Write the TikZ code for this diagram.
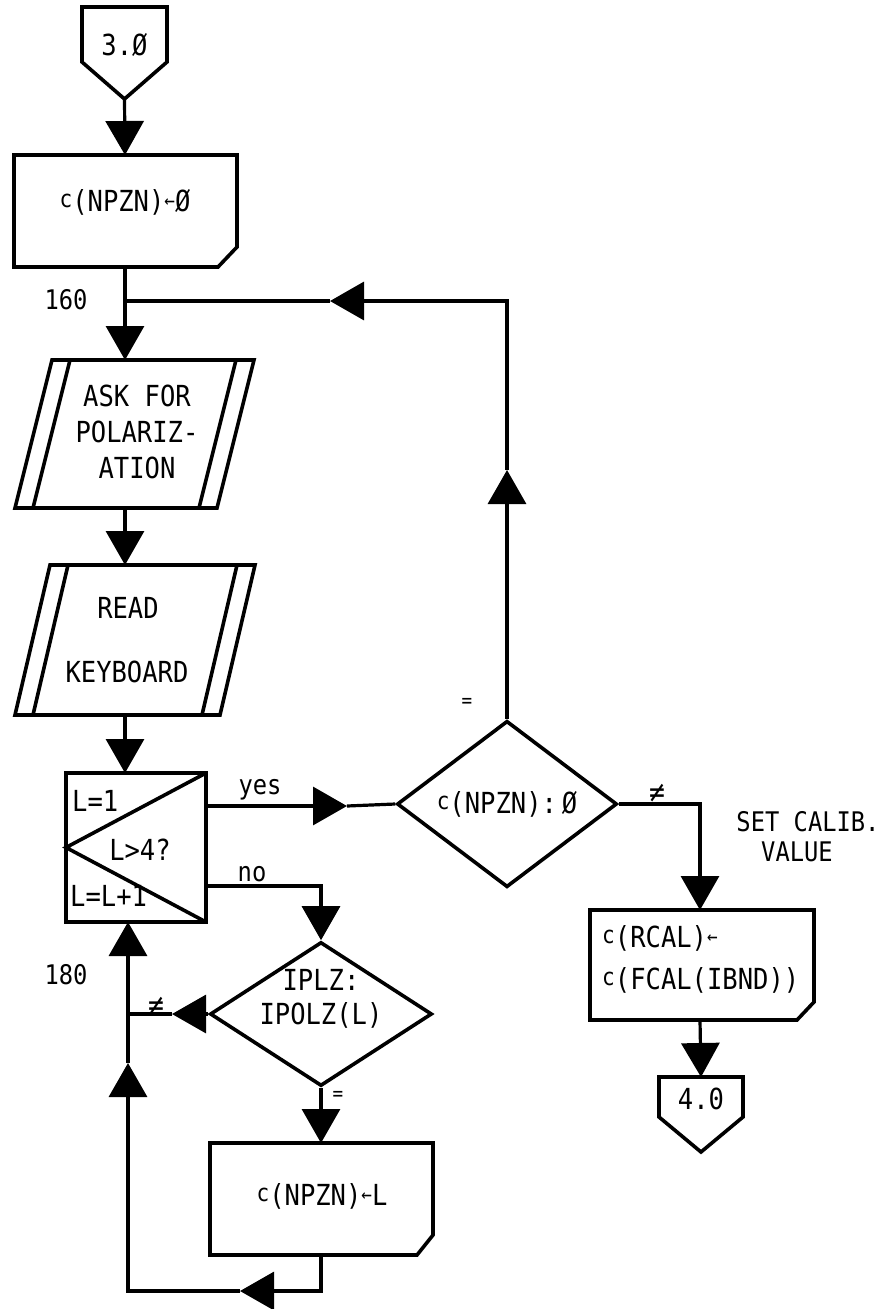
\documentclass[tikz,border=0pt]{standalone}
\usepackage{fontspec}
\setmainfont{DejaVu Sans Mono}[FakeStretch=0.88]
\usetikzlibrary{arrows.meta,shapes.geometric,calc}
\newcommand\smc{\raisebox{4pt}{\fontsize{24}{24}\selectfont c}}
\newcommand\lar{{\fontsize{20}{20}\selectfont\raisebox{4pt}{←}}}
\begin{document}
\begin{tikzpicture}[x=1pt,y=1pt,
  shp/.style={line width=3.6pt, line join=miter},
  conn/.style={line width=3.2pt},
  tip/.style={-{Triangle[width=38pt,length=34pt]}},
  txt/.style={font=\fontsize{29}{36}\selectfont, inner sep=0pt, align=center},
  lbl/.style={font=\fontsize{27}{30}\selectfont, inner sep=0pt},
  sml/.style={font=\fontsize{20}{20}\selectfont, inner sep=0pt},
  neq/.style={font=\fontsize{30}{30}\selectfont, inner sep=0pt}]
\useasboundingbox[fill=white] (0,0) rectangle (891,-1309);

% off-page connector 3.0
\draw[shp] (82,-62) -- (82,-7) -- (167,-7) -- (167,-62) -- (124.5,-99) -- cycle;
\node[txt] (c3) at (124.5,-45) {3.Ø};
\coordinate (c3tip) at (124.5,-99);

% box 1
\draw[shp] (14,-155) -- (237,-155) -- (237,-247) -- (218,-267) -- (14,-267) -- cycle;
\node[txt] (b1) at (125,-202) {\smc(NPZN)\lar Ø};
\coordinate (b1n) at (125,-155);
\coordinate (b1s) at (125,-267);
\coordinate (j160) at (125,-301);
\node[lbl] (l160) at (66,-300) {160};

% parallelogram 1
\draw[shp] (15,-508) -- (52,-360) -- (254,-360) -- (217,-508) -- cycle;
\draw[shp] (33,-508) -- (70,-360);
\draw[shp] (199,-508) -- (236,-360);
\node[txt] (p1) at (137,-432) {ASK FOR\\POLARIZ-\\ATION};
\coordinate (p1n) at (125,-360);
\coordinate (p1s) at (125,-508);

% parallelogram 2
\draw[shp] (15,-715) -- (50,-565) -- (255,-565) -- (220,-715) -- cycle;
\draw[shp] (33,-715) -- (68,-565);
\draw[shp] (202,-715) -- (237,-565);
\node[txt] (r1) at (128,-608) {READ};
\node[txt] (r2) at (127,-672) {KEYBOARD};
\coordinate (p2n) at (125,-565);
\coordinate (p2s) at (125,-715);

% loop box
\draw[shp] (66,-773) rectangle (206,-922);
\draw[shp] (206,-773) -- (66,-847.5) -- (206,-922);
\node[txt,anchor=west] (lp1) at (72,-801) {L=1};
\node[txt] (lp2) at (140,-850) {L>4?};
\node[txt,anchor=west] (lp3) at (70,-896) {L=L+1};
\coordinate (lpn) at (125,-773);
\coordinate (lps) at (128,-922);
\coordinate (lpyes) at (206,-806);
\coordinate (lpno) at (206,-886);

% decision c(NPZN):0
\node[diamond, draw, shp, minimum width=220pt, minimum height=148pt, inner sep=0pt,
  font=\fontsize{29}{30}\selectfont] (d1) at (507,-804) {\smc(NPZN):\,Ø};
\coordinate (yestip) at (347,-806);
\node[lbl] (lyes) at (260,-790) {yes};

% decision IPLZ
\node[diamond, draw, shp, minimum width=222pt, minimum height=144pt, inner sep=0pt] (d2) at (321,-1014) {};
\node[txt, font=\fontsize{29}{34}\selectfont] (d2t) at (321,-999) {IPLZ:\\IPOLZ(L)};
\coordinate (nocorner) at (321,-886);
\node[lbl] (lno) at (252,-874) {no};

% box c(NPZN)<-L
\draw[shp] (210,-1143) -- (433,-1143) -- (433,-1235) -- (417,-1255) -- (210,-1255) -- cycle;
\node[txt] (b2) at (322,-1196) {\smc(NPZN)\lar L};
\coordinate (b2n) at (321,-1143);
\coordinate (b2s) at (321,-1255);

% left return loop
\coordinate (bl1) at (321,-1291);
\coordinate (bltip) at (240,-1291);
\coordinate (bl2) at (128,-1291);
\coordinate (vtip) at (128,-1063);
\coordinate (vj) at (128,-1014);
\coordinate (netip) at (172,-1014);
\node[neq] (lne1) at (156,-1006) {≠};
\node[lbl] (l180) at (66,-975) {180};
\node[sml] (leq1) at (338,-1096) {=};

% top return loop
\coordinate (uptip) at (507,-470);
\coordinate (tr) at (507,-301);
\coordinate (lftip) at (330,-301);
\node[sml] (leq2) at (467,-703) {=};

% right branch
\coordinate (rc) at (700,-804);
\node[neq] (lne2) at (657,-793) {≠};
\node[lbl] (lset1) at (808,-822) {SET CALIB.};
\node[lbl] (lset2) at (797,-852) {VALUE};
\draw[shp] (590,-910) -- (814,-910) -- (814,-1002) -- (797,-1020) -- (590,-1020) -- cycle;
\node[txt, anchor=west] (rb1) at (602,-938) {\smc(RCAL)\lar};
\node[txt, anchor=west] (rb2) at (602,-980) {\smc(FCAL(IBND))};
\coordinate (rbn) at (700,-910);
\coordinate (rbs) at (700,-1020);

% off-page connector 4.0
\draw[shp] (659,-1117) -- (659,-1077) -- (743,-1077) -- (743,-1117) -- (701,-1152) -- cycle;
\node[txt] (c4) at (701,-1099) {4.0};
\coordinate (c4n) at (701,-1077);

% connectors
\draw[conn,tip] (c3tip) -- (b1n);
\draw[conn] (b1s) -- (j160);
\draw[conn,tip] (j160) -- (p1n);
\draw[conn,tip] (p1s) -- (p2n);
\draw[conn,tip] (p2s) -- (lpn);
\draw[conn,tip] (lpyes) -- (yestip);
\draw[conn] (yestip) -- (d1.west);
\draw[conn,tip] (lpno) -- (nocorner) -- (d2.north);
\draw[conn,tip] (d2.west) -- (netip);
\draw[conn] (netip) -- (vj);
\draw[conn,tip] (d2.south) -- (b2n);
\draw[conn,tip] (b2s) -- (bl1) -- (bltip);
\draw[conn,tip] (bltip) -- (bl2) -- (vtip);
\draw[conn,tip] (vtip) -- (lps);
\draw[conn,tip] (d1.north) -- (uptip);
\draw[conn,tip] (uptip) -- (tr) -- (lftip);
\draw[conn] (lftip) -- (j160);
\draw[conn,tip] (d1.east) -- (rc) -- (rbn);
\draw[conn,tip] (rbs) -- (c4n);
\end{tikzpicture}
\end{document}
